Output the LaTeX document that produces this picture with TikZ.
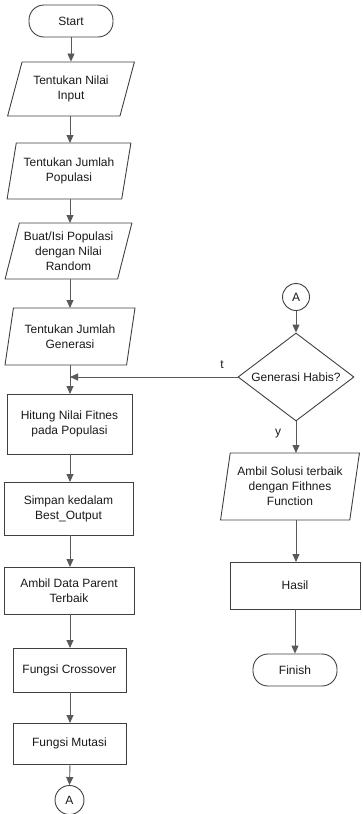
\documentclass[tikz,border=0pt]{standalone}
\usepackage{fontspec}
\setmainfont{Liberation Sans}
\usetikzlibrary{shapes.geometric,arrows.meta}
\begin{document}
\begin{tikzpicture}[x=1pt,y=-1pt,
  every node/.style={font=\fontsize{12}{15}\selectfont, text=black!90, align=center, inner sep=1pt},
  box/.style={draw=black!75, line width=0.9pt},
  proc/.style={box, rectangle},
  term/.style={box, rectangle, rounded corners=15pt},
  io/.style={box, trapezium, trapezium stretches=true},
  conn/.style={box, circle, minimum size=29pt},
  dec/.style={box, diamond, aspect=1.3},
  arr/.style={draw=black!65, line width=0.9pt, -{Triangle[length=8pt,width=7pt]}}
]
\useasboundingbox (0,0) rectangle (363,814);
% left column
\node[term, minimum width=84pt, minimum height=32pt] (start) at (71,21) {Start};
\node[io, trapezium left angle=68, trapezium right angle=112, minimum width=128pt, minimum height=54pt] (p1) at (71,89) {Tentukan Nilai\\Input};
\node[io, trapezium left angle=74, trapezium right angle=106, minimum width=124pt, minimum height=56pt] (p2) at (69,171) {Tentukan Jumlah\\Populasi};
\node[io, trapezium left angle=72, trapezium right angle=108, minimum width=127pt, minimum height=56pt] (p3) at (68.5,251) {Buat/Isi Populasi\\dengan Nilai\\Random};
\node[io, trapezium left angle=75, trapezium right angle=105, minimum width=130pt, minimum height=57pt] (p4) at (70,336.5) {Tentukan Jumlah\\Generasi};
\node[proc, minimum width=125pt, minimum height=60pt] (hit) at (69.5,424) {Hitung Nilai Fitnes\\pada Populasi};
\node[proc, minimum width=129pt, minimum height=53pt] (simp) at (68.5,508.5) {Simpan kedalam\\Best\_Output};
\node[proc, minimum width=130pt, minimum height=47pt] (amb) at (69,590.5) {Ambil Data Parent\\Terbaik};
\node[proc, minimum width=113pt, minimum height=44pt] (cross) at (69.5,670) {Fungsi Crossover};
\node[proc, minimum width=113pt, minimum height=41pt] (mut) at (69.5,743.5) {Fungsi Mutasi};
\node[conn] (a1) at (69.5,800) {A};
% right column
\node[conn, minimum size=27pt] (a2) at (296,297) {A};
\node[dec, minimum width=116pt, minimum height=88pt, inner sep=0pt] (gen) at (296,377) {Generasi Habis?};
\node[io, trapezium left angle=78, trapezium right angle=102, minimum width=139pt, minimum height=67pt] (p5) at (290,486.5) {Ambil Solusi terbaik\\dengan Fithnes\\Function};
\node[proc, minimum width=130pt, minimum height=47pt] (has) at (295,585.5) {Hasil};
\node[term, minimum width=84pt, minimum height=32pt] (fin) at (295,670) {Finish};
% connectors left
\draw[arr] (start.south) -- (start.south |- p1.north);
\draw[arr] (70,116) -- (70,143);
\draw[arr] (70,199) -- (70,223);
\draw[arr] (70,279) -- (70,308);
\coordinate (merge) at (70,377);
\draw[arr] (70,365) -- (70,394);
\draw[arr] (gen.west) -- (merge);
\node at (222,365) {t};
\draw[arr] (70,454) -- (70,482);
\draw[arr] (70,535) -- (70,567);
\draw[arr] (70,614) -- (70,648);
\draw[arr] (70,692) -- (70,723);
\draw[arr] (70,764) -- (a1.north);
% connectors right
\draw[arr] (a2.south) -- (gen.north);
\draw[arr] (gen.south) -- (296,453);
\node at (278,434) {y};
\draw[arr] (296,520) -- (296,562);
\draw[arr] (has.south) -- (fin.north);
\end{tikzpicture}
\end{document}
